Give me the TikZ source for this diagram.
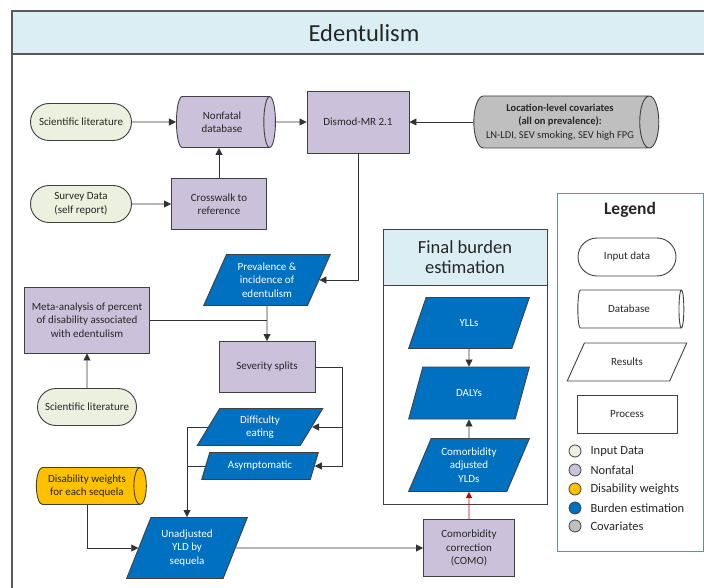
\documentclass[tikz,border=0pt]{standalone}
\usepackage{fontspec}
\setmainfont{Carlito}
\usetikzlibrary{shapes.geometric, shapes.misc, arrows.meta}

\definecolor{inputgreen}{RGB}{235,241,222}
\definecolor{nonfatal}{RGB}{204,193,218}
\definecolor{dwyellow}{RGB}{255,192,0}
\definecolor{burden}{RGB}{0,112,192}
\definecolor{covgray}{RGB}{191,191,191}
\definecolor{band}{RGB}{218,238,243}
\definecolor{ink}{RGB}{38,38,38}
\definecolor{edge}{RGB}{64,64,64}
\definecolor{wire}{RGB}{50,50,50}
\definecolor{framegray}{RGB}{89,89,89}
\definecolor{legendblue}{RGB}{100,140,185}
\definecolor{comored}{RGB}{192,0,0}

\tikzset{
  base/.style={draw=edge, line width=0.9pt, text=ink, align=center, inner sep=1pt,
    font=\fontsize{11}{13.5}\selectfont},
  inputbox/.style={base, rounded rectangle, fill=inputgreen, minimum width=103, minimum height=37},
  % cylinder: minimum height is the length, minimum width the diameter
  dbbox/.style={base, cylinder, shape aspect=0.5, fill=nonfatal},
  procbox/.style={base, rectangle, fill=nonfatal},
  resbox/.style={base, trapezium, trapezium left angle=65, trapezium right angle=115,
    trapezium stretches=true, fill=burden, text=white},
  dot/.style={circle, draw=edge, line width=0.8pt, minimum size=12, inner sep=0pt},
  keytext/.style={anchor=west, text=ink, font=\fontsize{12.5}{14}\selectfont},
  flow/.style={draw=wire, line width=0.8pt}
}

\begin{document}
\begin{tikzpicture}[x=1pt, y=-1pt, >={Triangle[length=7pt,width=7pt]}]
  \useasboundingbox (0,0) rectangle (704,588);
  \clip (0,0) rectangle (704,588);
  % frame and title
  \fill[band] (12,11) rectangle (720,54);
  \draw[framegray, line width=1.2pt] (12,600) -- (12,11) -- (720,11);
  \draw[framegray, line width=1.2pt] (12,54) -- (720,54);
  \node[text=ink, font=\fontsize{24.5}{28}\selectfont] (title) at (364,33) {Edentulism};

  % prevalence modelling
  \node[inputbox] (sci1) at (81,122) {Scientific literature};
  \node[inputbox] (survey) at (81,204) {Survey Data\\(self report)};
  \node[dbbox, minimum height=99, minimum width=51] (ndb) at (222,122) {Nonfatal\\database};
  \node[procbox, minimum width=95, minimum height=51] (cross) at (219,204) {Crosswalk to\\reference};
  \node[procbox, minimum width=102, minimum height=62] (dismod) at (358,122) {Dismod-MR 2.1};
  \node[dbbox, fill=covgray, minimum height=185, minimum width=52, font=\fontsize{10.5}{13.5}\selectfont]
    (cov) at (560,122) {\textbf{Location-level covariates}\\\textbf{(all on prevalence):}\\LN-LDI, SEV smoking, SEV high FPG};

  % severity splits
  \node[resbox, minimum width=127, minimum height=51] (prev) at (267,280) {Prevalence \&\\incidence of\\edentulism};
  \node[procbox, minimum width=125, minimum height=66] (meta) at (87,320) {Meta-analysis of percent\\of disability associated\\with edentulism};
  \node[inputbox, minimum width=101] (sci2) at (87,407) {Scientific literature};
  \node[procbox, minimum width=96, minimum height=51] (sev) at (267,367) {Severity splits};
  \node[resbox, minimum width=126, minimum height=37] (diff) at (260,427) {Difficulty\\eating};
  \node[resbox, minimum width=117, minimum height=27] (asym) at (260,466) {Asymptomatic};

  % YLDs
  \node[dbbox, fill=dwyellow, minimum height=110, minimum width=37] (dw) at (87,486) {Disability weights\\for each sequela};
  \node[resbox, minimum width=121, minimum height=61] (unadj) at (187,548) {Unadjusted\\YLD by\\sequela};
  \node[procbox, minimum width=91, minimum height=57] (como) at (469,548) {Comorbidity\\correction\\(COMO)};

  % final burden estimation
  \draw[edge, line width=0.9pt] (383,229) rectangle (547,504);
  \draw[edge, line width=0.9pt, fill=band] (383,229) rectangle (547,285);
  \node[text=ink, align=center, font=\fontsize{18.5}{20}\selectfont] (fbtitle) at (465,257) {Final burden\\estimation};
  \node[resbox, minimum width=121, minimum height=51] (ylls) at (469,323) {YLLs};
  \node[resbox, minimum width=121, minimum height=52] (dalys) at (469,393) {DALYs};
  \node[resbox, minimum width=121, minimum height=53] (cadj) at (469,465) {Comorbidity\\adjusted\\YLDs};

  % connectors
  \draw[flow, ->] (sci1) -- (ndb);
  \draw[flow, ->] (ndb) -- (dismod);
  \draw[flow, ->] (cov) -- (dismod);
  \draw[flow, ->] (survey) -- (cross);
  \draw[flow, ->] (cross.north) -- (cross.north |- ndb.south);
  \draw[flow, ->] (dismod.south) |- (prev.east);
  \draw[flow, ->] (prev.south) -- (sev.north);
  \draw[flow] (meta.east) -- (meta.east -| prev.south);
  \draw[flow, ->] (sci2) -- (meta);
  \draw[flow, ->] (sev.east) -- ++(27,0) |- (diff.east);
  \draw[flow, ->] (sev.east) -- ++(27,0) |- (asym.east);
  \draw[flow, ->] (diff.west) -| (unadj.north);
  \draw[flow] (asym.west) -- (asym.west -| unadj.north);
  \draw[flow, ->] (dw.south) |- (unadj.west);
  \draw[flow, ->] (unadj.east) -- (como.west);
  \draw[flow, comored, -{Triangle[length=6pt,width=6pt]}] (como.north) -- (cadj.south);
  \draw[flow, ->] (cadj) -- (dalys);
  \draw[flow, ->] (ylls) -- (dalys);

  % legend
  \draw[legendblue, line width=0.8pt] (557,193) rectangle (703,551);
  \node[text=ink, font=\bfseries\fontsize{17.5}{20}\selectfont] (legtitle) at (630,210) {Legend};
  \node[inputbox, fill=white, minimum width=100, minimum height=38] (keyin) at (627,257) {Input data};
  \node[dbbox, fill=white, minimum height=106, minimum width=38] (keydb) at (629,309) {Database};
  \node[resbox, fill=white, text=ink, trapezium left angle=55, trapezium right angle=125,
    minimum width=120, minimum height=38] (keyres) at (627,362) {Results};
  \node[procbox, fill=white, minimum width=100, minimum height=38] (keyproc) at (627,414) {Process};
  \node[dot, fill=inputgreen] (dotin) at (575,451) {};
  \node[keytext] (labin) at (587,451) {Input Data};
  \node[dot, fill=nonfatal] (dotnf) at (575,470) {};
  \node[keytext] (labnf) at (587,470) {Nonfatal};
  \node[dot, fill=dwyellow] (dotdw) at (575,489) {};
  \node[keytext] (labdw) at (587,489) {Disability weights};
  \node[dot, fill=burden] (dotbu) at (575,508) {};
  \node[keytext] (labbu) at (587,508) {Burden estimation};
  \node[dot, fill=covgray] (dotcv) at (575,526) {};
  \node[keytext] (labcv) at (587,526) {Covariates};
\end{tikzpicture}
\end{document}
